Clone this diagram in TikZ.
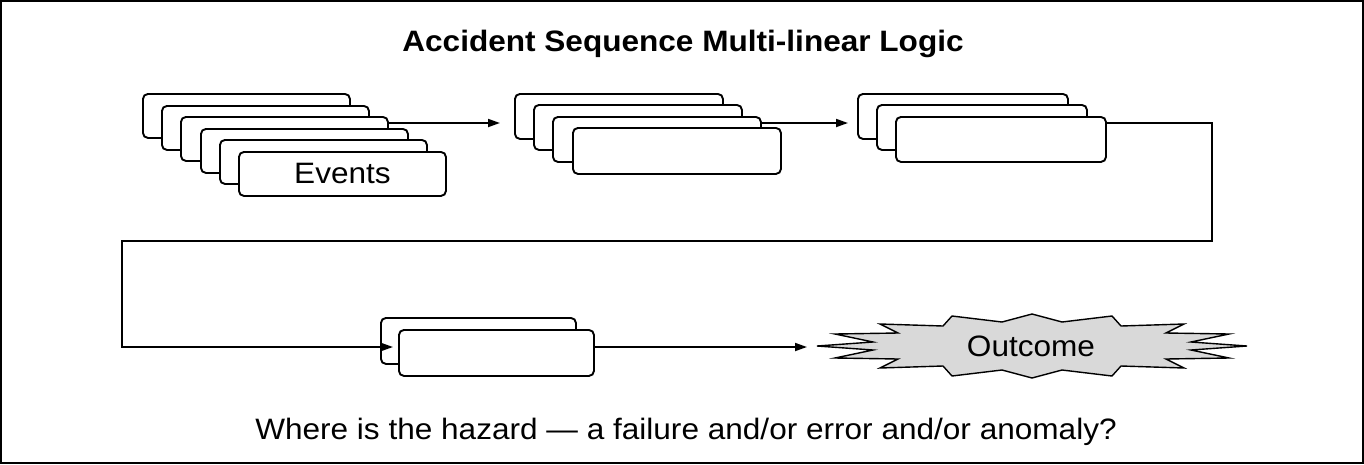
\documentclass[tikz,border=0pt]{standalone}
\usepackage{fontspec}
\setmainfont{Liberation Sans}[FakeStretch=1.07]
\usetikzlibrary{arrows.meta}
\tikzset{
  evbox/.style={draw, line width=1.9pt, rounded corners=5pt, fill=white, anchor=north west, inner sep=0pt, minimum height=44pt},
  conn/.style={line width=1.8pt, -{Triangle[length=12pt,width=8pt]}},
  txt/.style={font=\fontsize{29.5pt}{35pt}\selectfont, inner sep=0pt},
  burst/.style={draw, line width=1.4pt, fill=black!15, line join=miter},
}
\begin{document}
\begin{tikzpicture}[x=1pt,y=-1pt]
\useasboundingbox (0,0) rectangle (1364,464);
\draw[line width=1.8pt] (1,1) rectangle (1363,463);
\node[font=\bfseries\fontsize{29.5pt}{35pt}\selectfont, inner sep=0pt, anchor=base] (title) at (683,51.7) {Accident Sequence Multi-linear Logic};
% group 1
\node[evbox, minimum width=207pt] (g1a) at (142,93) {};
\node[evbox, minimum width=207pt] (g1b) at (161,105) {};
\node[evbox, minimum width=207pt] (g1c) at (180,116) {};
\node[evbox, minimum width=207pt] (g1d) at (200,128) {};
\node[evbox, minimum width=207pt] (g1e) at (219,139) {};
\node[evbox, minimum width=207pt, txt] (g1f) at (238,151) {Events};
% group 2
\node[evbox, minimum width=208pt, minimum height=45pt] (g2a) at (514,93) {};
\node[evbox, minimum width=208pt, minimum height=45pt] (g2b) at (533,104) {};
\node[evbox, minimum width=208pt, minimum height=45pt] (g2c) at (552,116) {};
\node[evbox, minimum width=208pt, minimum height=46pt] (g2d) at (572,127) {};
% group 3
\node[evbox, minimum width=210pt, minimum height=45pt] (g3a) at (857,93) {};
\node[evbox, minimum width=210pt, minimum height=45pt] (g3b) at (876,104) {};
\node[evbox, minimum width=210pt, minimum height=45pt] (g3c) at (895,116) {};
% group 4
\node[evbox, minimum width=195pt, minimum height=46pt] (g4a) at (380,317) {};
\node[evbox, minimum width=195pt, minimum height=46pt] (g4b) at (398,329) {};
% outcome burst
\begin{scope}[shift={(1032,346)}]
\draw[burst] (-215,0) -- (-159,-4) -- (-197,-12) -- (-134,-13) -- (-152,-22) -- (-89,-20) -- (-80,-30) -- (-30,-24) -- (0,-32) -- (30,-24) -- (80,-30) -- (89,-20) -- (152,-22) -- (134,-13) -- (197,-12) -- (159,-4) -- (215,0)
  -- (159,4) -- (197,12) -- (134,13) -- (152,22) -- (89,20) -- (80,30) -- (30,24) -- (0,32) -- (-30,24) -- (-80,30) -- (-89,20) -- (-152,22) -- (-134,13) -- (-197,12) -- (-159,4) -- cycle;
\coordinate (outtip) at (-215,0);
\end{scope}
\node[txt] (out) at (1031,346) {Outcome};
% connectors
\coordinate (s1) at ([yshift=-7pt]g1c.north east);
\coordinate (s2) at ([yshift=-7pt]g2c.north east);
\coordinate (s3) at ([yshift=-7pt]g3c.north east);
\coordinate (r1) at (1212,241);
\coordinate (l1) at (122,241);
\coordinate (s4) at ([yshift=-18pt]g4b.north west);
\coordinate (s5) at ([yshift=-18pt]g4b.north east);
\draw[conn, shorten >=14pt] (s1) -- (s1 -| g2a.west);
\draw[conn, shorten >=9pt] (s2) -- (s2 -| g3a.west);
\draw[conn, shorten >=5pt] (s3) -| (r1) -- (l1) |- (s4);
\draw[conn, shorten >=10pt] (s5) -- (s5 -| outtip);
% question
\node[txt, anchor=base] (q) at (686,439.3) {Where is the hazard — a failure and/or error and/or anomaly?};
\end{tikzpicture}
\end{document}
